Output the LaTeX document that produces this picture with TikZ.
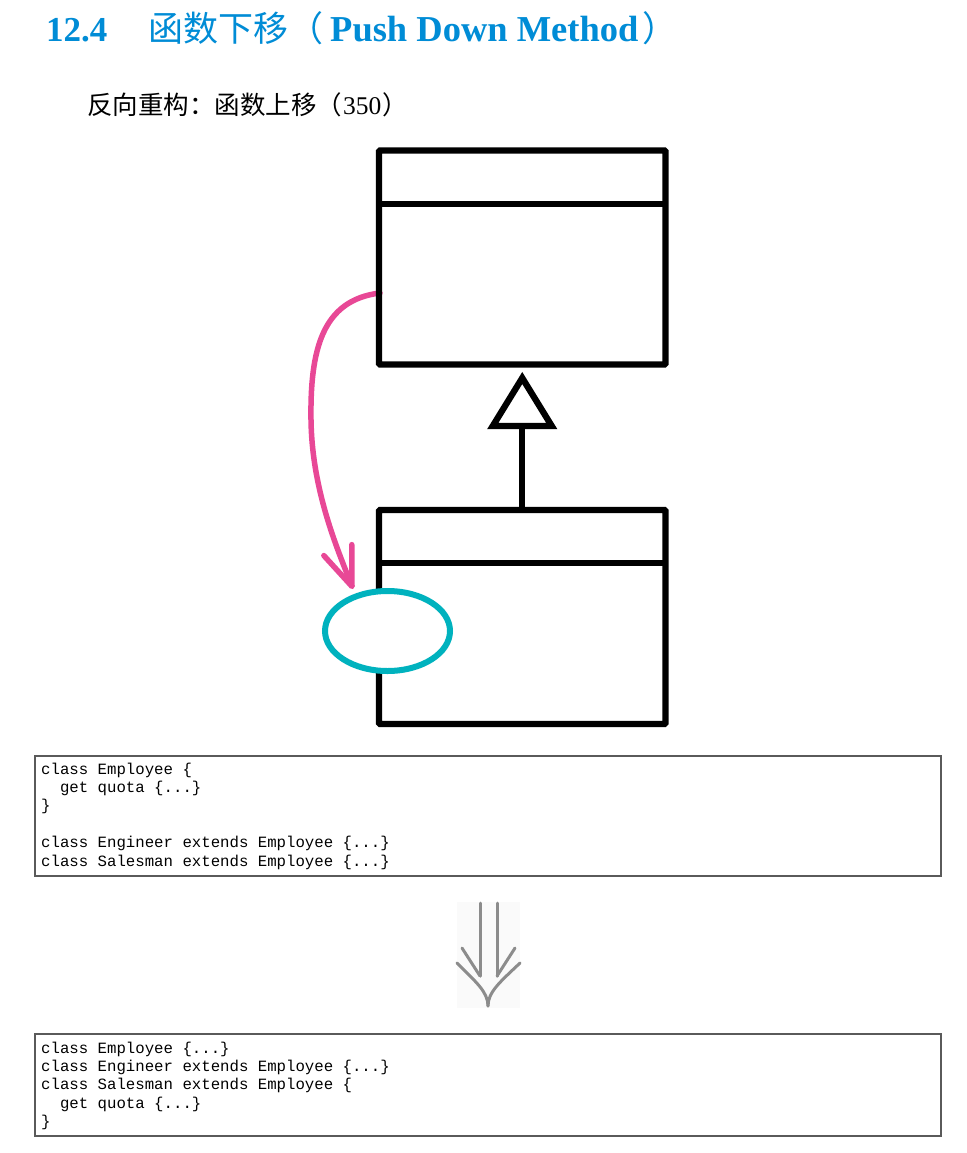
\documentclass[tikz,border=0pt]{standalone}
\usepackage{fontspec}
\setmainfont{Liberation Serif}
\setmonofont{Liberation Mono}
\newfontfamily\cjk{Noto Sans CJK SC}
\usetikzlibrary{shapes.geometric,arrows.meta,calc}
\definecolor{titleblue}{RGB}{0,140,214}
\definecolor{pinkarrow}{RGB}{232,72,150}
\definecolor{cyanoval}{RGB}{0,178,190}
\definecolor{codeframe}{RGB}{90,90,90}
\definecolor{arrowgray}{RGB}{140,140,140}
\definecolor{arrowbg}{RGB}{250,250,250}
\begin{document}
\begin{tikzpicture}[x=1pt,y=-1pt,
  umlbox/.style={draw=black, line width=6.3pt, minimum width=286.5pt, minimum height=214pt, inner sep=0pt, outer sep=0pt, rounded corners=1pt},
  umlline/.style={draw=black, line width=6.3pt},
  codeframe/.style={draw=codeframe, line width=1.2pt, minimum width=906pt, inner sep=0pt, outer sep=0pt},
  codetext/.style={anchor=base west, inner sep=0pt, font=\fontsize{15.7}{18.4}\selectfont\ttfamily},
  grayline/.style={draw=arrowgray, line width=3pt, line cap=round}]
\useasboundingbox (0,0) rectangle (966,1153);
\fill[white] (0,0) rectangle (966,1153);

% title
\node[anchor=base west, inner sep=0pt, text=titleblue, font=\fontsize{35}{40}\selectfont\bfseries] (num) at (46,42) {12.4};
\node[anchor=base west, inner sep=0pt, text=titleblue, font=\fontsize{35}{40}\selectfont] (title) at (148,42) {{\cjk 函数下移（}\kern7pt{\fontsize{36.5}{40}\selectfont\bfseries Push Down Method}\kern4pt{\cjk ）}};
\node[anchor=base west, inner sep=0pt, font=\fontsize{25.5}{30}\selectfont] (subtitle) at (87,115) {{\cjk 反向重构：函数上移（}\kern1pt 350\kern1pt{\cjk ）}};

% pink arrow (drawn first, under the class frame)
\coordinate (pstart) at (380,293);
\coordinate (ptip) at (353,589);
\draw[pinkarrow, line width=5.5pt, line cap=round, -{Straight Barb[length=39pt,width=30pt,round]}]
  (pstart) .. controls (322,300) and (310,350) .. (311,420) .. controls (312,490) and (337,548) .. (ptip);

% classes
\node[umlbox] (parent) at (522.25,257.5) {};
\draw[umlline] ($(parent.north west)+(0,53.5)$) -- ($(parent.north east)+(0,53.5)$);
\node[umlbox] (child) at (522.25,617) {};
\draw[umlline] ($(child.north west)+(0,53)$) -- ($(child.north east)+(0,53)$);

% generalization
\draw[umlline] (child.north) -- ($(parent.south)+(0,61.5)$);
\draw[umlline, line join=miter] ($(parent.south)+(0,13.5)$) -- ($(parent.south)+(-29.5,61.5)$) -- ($(parent.south)+(29.5,61.5)$) -- cycle;

% moved method
\node[ellipse, draw=cyanoval, fill=white, line width=6pt, minimum width=125pt, minimum height=80pt, inner sep=0pt, outer sep=0pt] (method) at (387.5,631) {};

% code before
\node[codeframe, minimum height=120pt] (box1) at (488,816) {};
\node[codetext] (code1) at ($(box1.north west)+(6,18)$) {\vtop{\baselineskip=18.4pt\lineskiplimit=-20pt
  \hbox{class Employee \{}
  \hbox{\ \ get quota \{...\}}
  \hbox{\}}
  \hbox{}
  \hbox{class Engineer extends Employee \{...\}}
  \hbox{class Salesman extends Employee \{...\}}}};

% down arrow
\fill[arrowbg] (457,902) rectangle (520,1008);
\draw[grayline] (480,903) -- (480,976);
\draw[grayline] (497,903) -- (497,976);
\draw[grayline] (462,948) -- (480,976);
\draw[grayline] (515,948) -- (497,976);
\draw[grayline] (457,963) .. controls (476,982) and (488,992) .. (488,1006);
\draw[grayline] (520,963) .. controls (500,982) and (488,992) .. (488,1006);

% code after
\node[codeframe, minimum height=102pt] (box2) at (488,1085) {};
\node[codetext] (code2) at ($(box2.north west)+(6,19)$) {\vtop{\baselineskip=18.4pt\lineskiplimit=-20pt
  \hbox{class Employee \{...\}}
  \hbox{class Engineer extends Employee \{...\}}
  \hbox{class Salesman extends Employee \{}
  \hbox{\ \ get quota \{...\}}
  \hbox{\}}}};
\end{tikzpicture}
\end{document}
